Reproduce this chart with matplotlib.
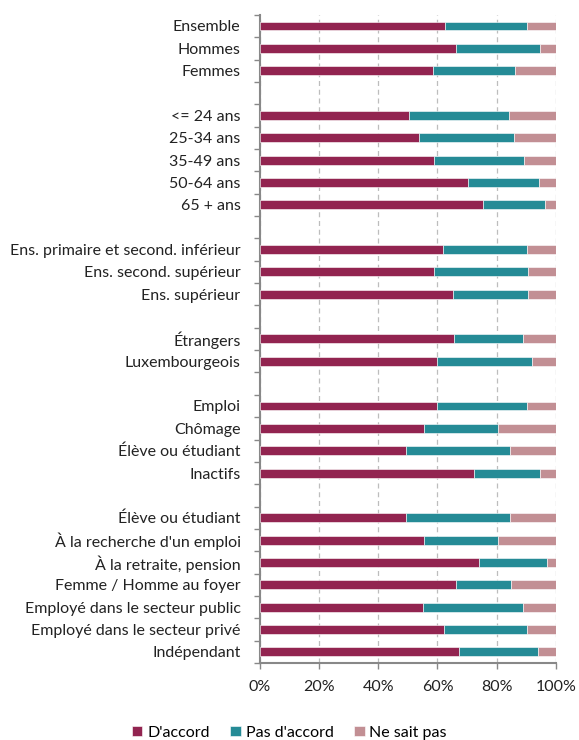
import numpy as np
import matplotlib.pyplot as plt

plt.rcParams['font.family'] = ['Lato', 'DejaVu Sans']

# categories (empty string = blank spacer row between groups)
labels = ["Ensemble", "Hommes", "Femmes", "",
          "<= 24 ans", "25-34 ans", "35-49 ans", "50-64 ans", "65 + ans", "",
          "Ens. primaire et second. inférieur", "Ens. second. supérieur", "Ens. supérieur", "",
          "Étrangers", "Luxembourgeois", "",
          "Emploi", "Chômage", "Élève ou étudiant", "Inactifs", "",
          "Élève ou étudiant", "À la recherche d'un emploi", "À la retraite, pension",
          "Femme / Homme au foyer", "Employé dans le secteur public",
          "Employé dans le secteur privé", "Indépendant"]

accord = [62.5, 66.3, 58.5, 0,
          50.4, 53.8, 58.9, 70.4, 75.4, 0,
          61.9, 58.9, 65.3, 0,
          65.6, 59.9, 0,
          59.9, 55.5, 49.4, 72.4, 0,
          49.4, 55.5, 74.1, 66.3, 55.1, 62.3, 67.3]
pas_accord = [27.9, 28.5, 27.7, 0,
              33.9, 32.2, 30.4, 23.8, 21.1, 0,
              28.2, 31.8, 25.3, 0,
              23.3, 32.0, 0,
              30.2, 25.1, 35.2, 22.4, 0,
              35.2, 25.1, 23.0, 18.6, 33.8, 27.8, 26.7]
ne_sait_pas = [9.6, 5.2, 13.8, 0,
               15.7, 14.0, 10.7, 5.8, 3.5, 0,
               9.9, 9.3, 9.4, 0,
               11.1, 8.1, 0,
               9.9, 19.4, 15.4, 5.2, 0,
               15.4, 19.4, 2.9, 15.1, 11.1, 9.9, 6.0]

series = ["D'accord", "Pas d'accord", "Ne sait pas"]
colors = ["#922450", "#258B96", "#C28F94"]

fig = plt.figure(figsize=(5.79, 7.4), dpi=100)
ax = fig.add_axes([0.449, 0.104, 0.511, 0.876])

y = np.arange(len(labels))
a = np.array(accord)
b = np.array(pas_accord)
c = np.array(ne_sait_pas)
mask = np.array([l != "" for l in labels])

left = np.zeros(len(labels))
for vals, name, col in zip([a, b, c], series, colors):
    ax.barh(y[mask], vals[mask], left=left[mask], height=0.4, color=col,
            edgecolor='white', linewidth=0.4, label=name, zorder=3)
    left = left + vals

ax.set_xlim(0, 100)
ax.set_ylim(len(labels) - 0.5, -0.5)
ax.set_xticks(np.arange(0, 101, 20))
ax.set_xticklabels([f"{v}%" for v in range(0, 101, 20)], fontsize=11.5, color='#222222')
ax.xaxis.grid(True, linestyle=(0, (4, 3)), color='#BDBDBD', linewidth=0.9, zorder=0)

ax.set_yticks(y)
ax.set_yticklabels(labels, fontsize=11.5, color='#222222')
ax.tick_params(axis='y', which='major', length=0, pad=14)
ax.set_yticks(np.arange(-0.5, len(labels)), minor=True)
ax.tick_params(axis='y', which='minor', length=4, width=1, color='#888888', direction='out')
ax.tick_params(axis='x', length=4, width=1, color='#888888', pad=8)

for s in ['top', 'right']:
    ax.spines[s].set_visible(False)
for s in ['left', 'bottom']:
    ax.spines[s].set_color('#888888')
    ax.spines[s].set_linewidth(1.5)

ax.legend(loc='center', bbox_to_anchor=(0.5, 0.01), bbox_transform=fig.transFigure,
          ncol=3, frameon=False, fontsize=11.5, handlelength=0.65, handleheight=0.65,
          handletextpad=0.3, columnspacing=1.3)

fig.savefig("out.png", dpi=100)
